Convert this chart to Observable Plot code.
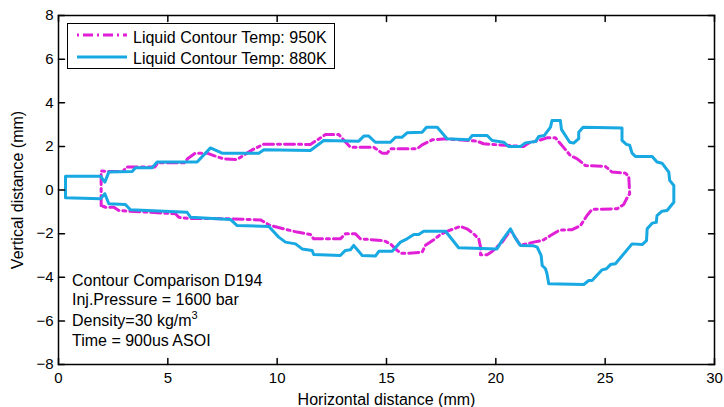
<!DOCTYPE html>
<html>
<head>
<meta charset="utf-8">
<script src="https://cdn.jsdelivr.net/npm/d3@7"></script>
<script src="https://cdn.jsdelivr.net/npm/@observablehq/plot@0.6"></script>
<style>
  body { margin: 0; background: white; }
  #wrap { position: relative; width: 724px; height: 407px; font-family: "Liberation Sans", Arial, sans-serif; }
  .legend { position: absolute; left: 67px; top: 23px; width: 268px; height: 46px; border: 1px solid black; background: white; box-sizing: border-box; }
  .lrow { position: absolute; left: 0; font-size: 16px; line-height: 16px; white-space: nowrap; }
  .note { position: absolute; left: 72px; font-size: 16px; line-height: 16px; white-space: nowrap; }
  sup { font-size: 11px; vertical-align: 7px; line-height: 0; }
</style>
</head>
<body>
<div id="wrap"></div>
<script>
// Series: Liquid Contour Temp 950K (dash-dot magenta)
const x950 = [1.95,1.95,2.30,2.95,3.10,4.40,4.55,5.75,5.90,6.26,6.80,7.26,7.56,8.17,8.86,9.39,11.52,12.21,12.82,13.20,13.35,14.42,14.80,15.03,15.18,16.40,16.63,17.09,17.70,19.14,19.44,21.27,21.50,21.96,22.34,22.73,23.41,23.72,24.10,25.01,25.32,25.93,26.08,26.12,26.00,25.85,25.55,24.40,24.17,23.87,23.49,22.95,22.88,22.50,22.12,21.73,21.12,20.90,20.67,20.28,19.83,19.60,19.30,19.30,19.22,18.99,18.68,18.38,17.85,17.47,17.16,16.78,16.63,15.94,15.64,15.49,15.18,14.88,13.81,13.58,13.12,12.89,11.67,11.52,10.91,10.46,9.69,9.24,7.86,5.90,5.50,5.35,2.76,2.53,2.15,1.95];
const y950 = [-0.71,0.87,0.85,0.85,1.05,1.05,1.25,1.25,1.43,1.69,1.69,1.52,1.43,1.40,1.84,2.10,2.09,2.54,2.54,2.12,1.96,1.96,1.69,1.69,1.89,1.89,2.07,2.30,2.35,2.24,2.12,1.99,2.15,2.27,2.39,2.39,1.58,1.43,1.12,1.08,0.82,0.77,0.62,-0.17,-0.36,-0.66,-0.86,-0.89,-1.17,-1.63,-1.82,-1.84,-1.86,-2.09,-2.32,-2.39,-2.54,-2.20,-1.85,-2.40,-2.82,-2.97,-2.97,-2.62,-2.24,-2.01,-1.78,-1.67,-1.86,-2.04,-2.28,-2.54,-2.85,-2.90,-2.90,-2.77,-2.47,-2.32,-2.24,-2.01,-2.01,-2.24,-2.24,-2.04,-1.93,-1.82,-1.63,-1.37,-1.32,-1.30,-1.25,-1.09,-0.94,-0.79,-0.79,-0.71];

// Series: Liquid Contour Temp 880K (solid blue)
const x880 = [0.32,0.32,1.92,2.12,2.30,3.37,3.52,4.28,4.51,6.34,6.95,7.48,9.16,9.39,11.52,12.13,13.73,13.96,14.19,14.49,15.18,15.41,15.72,15.94,16.63,16.83,17.32,17.77,18.76,18.92,19.60,19.83,20.36,20.59,21.12,21.35,21.81,21.96,22.22,22.50,22.57,22.95,23.00,23.38,23.56,23.79,23.79,23.99,25.77,25.77,25.97,26.12,26.23,26.38,27.15,27.37,27.60,27.91,27.95,28.14,28.14,27.83,27.60,27.37,27.34,27.15,26.92,26.89,26.69,26.23,25.47,25.24,25.06,24.86,24.40,24.25,24.02,22.42,22.34,22.27,22.12,22.07,21.89,21.73,21.12,20.90,20.67,20.28,20.05,18.30,17.70,16.70,16.47,16.25,15.94,15.64,15.26,14.65,14.49,13.89,13.50,13.35,13.12,12.89,11.67,11.60,11.14,10.84,10.38,10.07,9.62,8.17,7.86,6.04,5.88,3.29,3.06,2.30,2.12,1.92,0.32];
const y880 = [-0.36,0.63,0.63,0.36,0.82,0.85,1.02,1.02,1.28,1.28,1.93,1.69,1.69,1.84,1.81,2.27,2.24,2.47,2.47,2.19,2.19,2.42,2.42,2.62,2.65,2.88,2.88,2.35,2.30,2.50,2.50,2.27,2.19,1.99,1.99,2.16,2.22,2.45,2.50,2.88,3.19,3.19,2.78,2.19,2.15,2.35,2.65,2.88,2.84,2.27,2.09,2.05,1.69,1.54,1.54,1.28,1.23,0.82,0.44,0.21,-0.56,-0.94,-0.97,-1.17,-1.48,-1.52,-1.78,-2.32,-2.50,-2.47,-3.38,-3.42,-3.61,-3.66,-4.15,-4.15,-4.33,-4.30,-3.84,-3.61,-3.46,-3.00,-2.62,-2.56,-2.54,-2.22,-1.78,-2.32,-2.70,-2.65,-1.89,-1.89,-2.04,-2.04,-2.24,-2.39,-2.81,-2.81,-3.03,-3.00,-2.54,-2.74,-2.77,-3.00,-2.96,-2.77,-2.70,-2.47,-2.39,-2.16,-1.67,-1.63,-1.35,-1.25,-1.02,-0.91,-0.66,-0.63,-0.17,-0.40,-0.36];

const seriesNames = ["Liquid Contour Temp: 950K", "Liquid Contour Temp: 880K"];
const seriesColors = ["#e01fd6", "#18a8e2"];
const seriesDash = ["10,4,3,4", null];

const xTicks = [0,5,10,15,20,25,30];
const yTicks = [-8,-6,-4,-2,0,2,4,6,8];
const xTitle = "Horizontal distance (mm)";
const yTitle = "Vertical distance (mm)";

const noteLines = ["Contour Comparison D194", "Inj.Pressure = 1600 bar", "Density=30 kg/m<sup>3</sup>", "Time = 900us ASOI"];

const d950 = x950.map((x, i) => ({x, y: y950[i]}));
const d880 = x880.map((x, i) => ({x, y: y880[i]}));

const font = '"Liberation Sans", Arial, sans-serif';

// straight inward tick shape for vectors
const tickShape = {draw(context, l) { context.moveTo(0, 0); context.lineTo(0, -l); }};
const tickOpts = {length: 6, anchor: "start", shape: tickShape, stroke: "black", strokeWidth: 1.5};

const chart = Plot.plot({
  width: 724,
  height: 407,
  marginLeft: 58,
  marginRight: 10,
  marginTop: 15,
  marginBottom: 43,
  style: {fontFamily: font, fontSize: "15px", color: "black", background: "white"},
  x: {domain: [0, 30]},
  y: {domain: [-8, 8]},
  marks: [
    Plot.line(d950, {x: "x", y: "y", stroke: seriesColors[0], strokeWidth: 3, strokeDasharray: seriesDash[0], strokeLinejoin: "round"}),
    Plot.line(d880, {x: "x", y: "y", stroke: seriesColors[1], strokeWidth: 3, strokeLinejoin: "round"}),
    Plot.axisX({anchor: "bottom", ticks: xTicks, tickSize: 0, tickPadding: 8, fontSize: 15, label: null}),
    Plot.axisX({anchor: "bottom", ticks: [], tickSize: 0, fontSize: 16, label: xTitle, labelAnchor: "center", labelOffset: 40, labelArrow: "none"}),
    Plot.axisY({anchor: "left", ticks: yTicks, tickSize: 0, tickPadding: 5, fontSize: 15, label: null}),
    Plot.axisY({anchor: "left", ticks: [], tickSize: 0, fontSize: 16, label: yTitle, labelAnchor: "center", labelOffset: 47, labelArrow: "none"}),
    Plot.vector(xTicks, {...tickOpts, x: d => d, frameAnchor: "bottom", rotate: 0}),
    Plot.vector(xTicks, {...tickOpts, x: d => d, frameAnchor: "top", rotate: 180}),
    Plot.vector(yTicks, {...tickOpts, y: d => d, frameAnchor: "left", rotate: 90}),
    Plot.vector(yTicks, {...tickOpts, y: d => d, frameAnchor: "right", rotate: 270}),
    Plot.frame({stroke: "black", strokeWidth: 1.5})
  ]
});

const wrap = document.getElementById("wrap");
wrap.appendChild(chart);

// Legend overlay
const legend = document.createElement("div");
legend.className = "legend";
const rowTops = [6, 27];
const sampleY = [11, 33];
seriesNames.forEach((name, i) => {
  const svgNS = "http://www.w3.org/2000/svg";
  const s = document.createElementNS(svgNS, "svg");
  s.setAttribute("width", "52");
  s.setAttribute("height", "8");
  s.style.position = "absolute";
  s.style.left = "9px";
  s.style.top = (sampleY[i] - 4) + "px";
  const ln = document.createElementNS(svgNS, "line");
  ln.setAttribute("x1", "0"); ln.setAttribute("x2", "50");
  ln.setAttribute("y1", "4"); ln.setAttribute("y2", "4");
  ln.setAttribute("stroke", seriesColors[i]);
  ln.setAttribute("stroke-width", "3");
  if (seriesDash[i]) ln.setAttribute("stroke-dasharray", "2,4,10,4");
  s.appendChild(ln);
  legend.appendChild(s);
  const t = document.createElement("div");
  t.className = "lrow";
  t.style.left = "65px";
  t.style.top = rowTops[i] + "px";
  t.textContent = name;
  legend.appendChild(t);
});
wrap.appendChild(legend);

// Annotation overlay
const noteTops = [272.5, 291.5, 313, 332.5];
noteLines.forEach((txt, i) => {
  const d = document.createElement("div");
  d.className = "note";
  d.style.top = noteTops[i] + "px";
  d.innerHTML = txt;
  wrap.appendChild(d);
});
</script>
</body>
</html>
